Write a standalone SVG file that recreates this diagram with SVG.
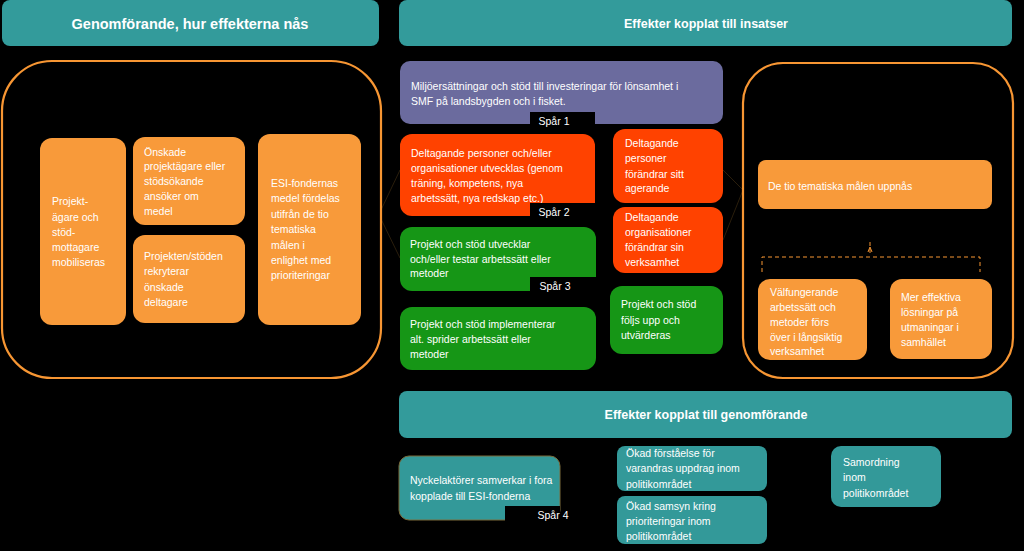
<svg xmlns="http://www.w3.org/2000/svg" width="1024" height="551" viewBox="0 0 1024 551">
<style>
.hdr{fill:#339B9B}
.hdrt{font-family:"Liberation Sans",Arial,sans-serif;font-weight:bold;fill:#fff;text-anchor:middle}
.t{font-family:"Liberation Sans",Arial,sans-serif;font-size:10.5px;fill:#fff}
.or{fill:#F89A3A}
.red{fill:#FF4200}
.grn{fill:#169616}
.pur{fill:#6B6B9E}
.teal{fill:#339999}
.frame{fill:none;stroke:#F79633;stroke-width:2.2}
.tag{fill:#000}
.tagt{font-family:"Liberation Sans",Arial,sans-serif;font-size:10.5px;fill:#fff;text-anchor:middle}
.faint{stroke:#2a1e0c;stroke-width:1;fill:none}
.dash{stroke:#F79633;stroke-width:1;fill:none;stroke-dasharray:4 3}
</style>
<rect width="1024" height="551" fill="#000"/>

<g id="connectors">
<path class="faint" d="M381 210 L400 170"/>
<path class="faint" d="M381 219 L400 258"/>
<path class="faint" d="M723 170 L743 190"/>
<path class="faint" d="M723 240 L743 190"/>
<path class="dash" d="M870 242 V256 M762 272 V257 H980 V272"/>
<path d="M868 252 L870 247 L872 252" fill="none" stroke="#F79633" stroke-width="1"/>
</g>

<g id="hdr-genomforande">
<rect class="hdr" x="2" y="0" width="377" height="46" rx="8"/>
<text class="hdrt" x="190" y="29" font-size="14.5">Genomförande, hur effekterna nås</text>
</g>
<g id="hdr-insatser">
<rect class="hdr" x="399" y="0" width="613" height="46" rx="8"/>
<text class="hdrt" x="706" y="28" font-size="12.5">Effekter kopplat till insatser</text>
</g>

<g id="frame-left"><rect class="frame" x="2" y="61" width="379" height="317" rx="50"/></g>

<g id="n-mobiliseras">
<rect class="or" x="40" y="138" width="86" height="187" rx="12"/>
<text class="t"><tspan x="52" y="205">Projekt-</tspan><tspan x="52" y="221">ägare och</tspan><tspan x="52" y="236">stöd-</tspan><tspan x="52" y="251">mottagare</tspan><tspan x="52" y="266">mobiliseras</tspan></text>
</g>
<g id="n-ansoker">
<rect class="or" x="133" y="137" width="112" height="88" rx="12"/>
<text class="t"><tspan x="144" y="156">Önskade</tspan><tspan x="144" y="170">projektägare eller</tspan><tspan x="144" y="185">stödsökande</tspan><tspan x="144" y="200">ansöker om</tspan><tspan x="144" y="215">medel</tspan></text>
</g>
<g id="n-rekryterar">
<rect class="or" x="133" y="235" width="112" height="88" rx="12"/>
<text class="t"><tspan x="144" y="260">Projekten/stöden</tspan><tspan x="144" y="275">rekryterar</tspan><tspan x="144" y="291">önskade</tspan><tspan x="144" y="306">deltagare</tspan></text>
</g>
<g id="n-esi">
<rect class="or" x="258" y="134" width="103" height="191" rx="12"/>
<text class="t"><tspan x="271" y="187">ESI-fondernas</tspan><tspan x="271" y="202">medel fördelas</tspan><tspan x="271" y="218">utifrån de tio</tspan><tspan x="271" y="233">tematiska</tspan><tspan x="271" y="249">målen i</tspan><tspan x="271" y="264">enlighet med</tspan><tspan x="271" y="279">prioriteringar</tspan></text>
</g>

<g id="n-miljo">
<rect class="pur" x="400" y="61" width="323" height="63" rx="10"/>
<text class="t"><tspan x="411" y="90">Miljöersättningar och stöd till investeringar för lönsamhet i</tspan><tspan x="411" y="105">SMF på landsbygden och i fisket.</tspan></text>
<rect class="tag" x="530" y="112" width="65" height="18"/>
<text class="tagt" x="554" y="125">Spår 1</text>
</g>

<g id="n-utvecklas">
<rect class="red" x="400" y="134" width="195" height="82" rx="12"/>
<text class="t"><tspan x="411" y="157">Deltagande personer och/eller</tspan><tspan x="411" y="172">organisationer utvecklas (genom</tspan><tspan x="411" y="187">träning, kompetens, nya</tspan><tspan x="411" y="202">arbetssätt, nya redskap etc.)</tspan></text>
<rect class="tag" x="530" y="203" width="66" height="18"/>
<text class="tagt" x="554" y="216">Spår 2</text>
</g>

<g id="n-agerande">
<rect class="red" x="613" y="129" width="110" height="74" rx="12"/>
<text class="t"><tspan x="625" y="147">Deltagande</tspan><tspan x="625" y="162">personer</tspan><tspan x="625" y="178">förändrar sitt</tspan><tspan x="625" y="192">agerande</tspan></text>
</g>
<g id="n-verksamhet">
<rect class="red" x="613" y="207" width="110" height="66" rx="12"/>
<text class="t"><tspan x="625" y="221">Deltagande</tspan><tspan x="625" y="236">organisationer</tspan><tspan x="625" y="251">förändrar sin</tspan><tspan x="625" y="266">verksamhet</tspan></text>
</g>

<g id="n-testar">
<rect class="grn" x="400" y="227" width="196" height="64" rx="12"/>
<text class="t"><tspan x="410" y="248">Projekt och stöd utvecklar</tspan><tspan x="410" y="263">och/eller testar arbetssätt eller</tspan><tspan x="410" y="277">metoder</tspan></text>
<rect class="tag" x="530" y="277" width="66" height="18"/>
<text class="tagt" x="555" y="290">Spår 3</text>
</g>
<g id="n-implementerar">
<rect class="grn" x="400" y="307" width="196" height="63" rx="12"/>
<text class="t"><tspan x="410" y="328">Projekt och stöd implementerar</tspan><tspan x="410" y="343">alt. sprider arbetssätt eller</tspan><tspan x="410" y="358">metoder</tspan></text>
</g>
<g id="n-foljs">
<rect class="grn" x="610" y="286" width="113" height="68" rx="12"/>
<text class="t"><tspan x="621" y="308">Projekt och stöd</tspan><tspan x="621" y="324">följs upp och</tspan><tspan x="621" y="339">utvärderas</tspan></text>
</g>

<g id="frame-right"><rect class="frame" x="743" y="63" width="270" height="315" rx="40"/></g>

<g id="n-tio">
<rect class="or" x="758" y="160" width="234" height="49" rx="8"/>
<text class="t" x="768" y="190">De tio tematiska målen uppnås</text>
</g>
<g id="n-valfungerande">
<rect class="or" x="758" y="279" width="109" height="81" rx="12"/>
<text class="t"><tspan x="770" y="296">Välfungerande</tspan><tspan x="770" y="311">arbetssätt och</tspan><tspan x="770" y="326">metoder förs</tspan><tspan x="770" y="341">över i långsiktig</tspan><tspan x="770" y="355">verksamhet</tspan></text>
</g>
<g id="n-effektiva">
<rect class="or" x="890" y="279" width="102" height="80" rx="12"/>
<text class="t"><tspan x="901" y="301">Mer effektiva</tspan><tspan x="901" y="316">lösningar på</tspan><tspan x="901" y="331">utmaningar i</tspan><tspan x="901" y="346">samhället</tspan></text>
</g>

<g id="hdr-genomforande2">
<rect class="hdr" x="399" y="391" width="613" height="47" rx="8"/>
<text class="hdrt" x="706" y="419" font-size="12.5">Effekter kopplat till genomförande</text>
</g>

<g id="n-nyckel">
<rect class="teal" x="399" y="456" width="161" height="64" rx="10" stroke="#7a6a3a" stroke-width="1"/>
<text class="t"><tspan x="410" y="484">Nyckelaktörer samverkar i fora</tspan><tspan x="410" y="500">kopplade till ESI-fonderna</tspan></text>
<rect class="tag" x="505" y="506" width="55" height="18"/>
<text class="tagt" x="553" y="519">Spår 4</text>
</g>
<g id="n-forstaelse">
<rect class="teal" x="617" y="446" width="150" height="45" rx="8"/>
<text class="t"><tspan x="626" y="457">Ökad förståelse för</tspan><tspan x="626" y="472">varandras uppdrag inom</tspan><tspan x="626" y="488">politikområdet</tspan></text>
</g>
<g id="n-samsyn">
<rect class="teal" x="617" y="496" width="150" height="48" rx="8"/>
<text class="t"><tspan x="626" y="510">Ökad samsyn kring</tspan><tspan x="626" y="525">prioriteringar inom</tspan><tspan x="626" y="540">politikområdet</tspan></text>
</g>
<g id="n-samordning">
<rect class="teal" x="831" y="446" width="110" height="61" rx="10"/>
<text class="t"><tspan x="843" y="466">Samordning</tspan><tspan x="843" y="481">inom</tspan><tspan x="843" y="497">politikområdet</tspan></text>
</g>
</svg>
